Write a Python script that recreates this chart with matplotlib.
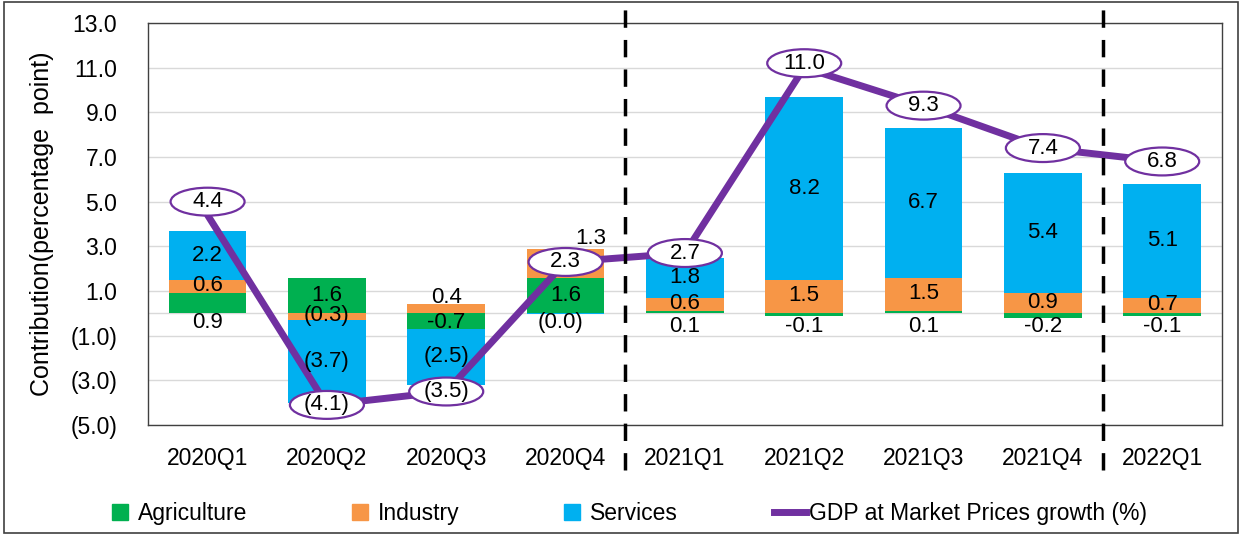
import numpy as np
import matplotlib
matplotlib.use('Agg')
import matplotlib.pyplot as plt
from matplotlib.lines import Line2D
from matplotlib.patches import Rectangle, Ellipse

plt.rcParams['font.family'] = ['Liberation Sans', 'DejaVu Sans']

# data
quarters = ['2020Q1', '2020Q2', '2020Q3', '2020Q4', '2021Q1',
            '2021Q2', '2021Q3', '2021Q4', '2022Q1']
agriculture = [0.9, 1.6, -0.7, 1.6, 0.1, -0.1, 0.1, -0.2, -0.1]
industry = [0.6, -0.3, 0.4, 1.3, 0.6, 1.5, 1.5, 0.9, 0.7]
services = [2.2, -3.7, -2.5, -0.02, 1.8, 8.2, 6.7, 5.4, 5.1]
gdp_growth = [4.4, -4.1, -3.5, 2.3, 2.7, 11.0, 9.3, 7.4, 6.8]
yticks = np.arange(-5, 14, 2)

c_agri = '#00B050'
c_ind = '#F79646'
c_serv = '#00B0F0'
c_gdp = '#7030A0'


def paren(v):
    if v < 0:
        return '(%.1f)' % abs(v)
    return '%.1f' % v


fig = plt.figure(figsize=(12.43, 5.35), dpi=100)
ax = fig.add_axes([0.119, 0.2056, 0.864, 0.7514])

x = np.arange(len(quarters))
w = 0.65
pos_base = np.zeros(len(x))
neg_base = np.zeros(len(x))
segments = []
for vals, col in [(agriculture, c_agri), (industry, c_ind), (services, c_serv)]:
    vals = np.array(vals)
    base = np.where(vals >= 0, pos_base, neg_base)
    ax.bar(x, vals, w, bottom=base, color=col, zorder=2)
    segments.append((vals, base))
    pos_base = pos_base + np.where(vals >= 0, vals, 0)
    neg_base = neg_base + np.where(vals < 0, vals, 0)

fs = 16
# agriculture labels
vals, base = segments[0]
for i, v in enumerate(vals):
    if abs(v) >= 1:
        yc = base[i] + v / 2
    elif abs(v) >= 0.5:
        yc = -0.4
    else:
        yc = -0.6
    ax.text(x[i], yc, '%.1f' % v, ha='center', va='center', fontsize=fs, zorder=5)
# industry labels
vals, base = segments[1]
for i, v in enumerate(vals):
    yc = base[i] + v / 2
    if abs(yc - gdp_growth[i]) < 0.5:
        ax.text(x[i] + 0.21, pos_base[i] + 0.45, paren(v), ha='center', va='center',
                fontsize=fs, zorder=5)
    elif 0 < v < 0.5 and agriculture[i] < -0.5:
        ax.text(x[i], base[i] + v + 0.3, paren(v), ha='center', va='center',
                fontsize=fs, zorder=5)
    else:
        ax.text(x[i], yc + 0.05, paren(v), ha='center', va='center', fontsize=fs, zorder=5)
# services labels
vals, base = segments[2]
for i, v in enumerate(vals):
    yc = base[i] + v / 2
    if abs(v) < 0.1:
        ax.text(x[i] - 0.04, -0.4, paren(v), ha='center', va='center', fontsize=fs, zorder=5)
    else:
        ax.text(x[i], yc, paren(v), ha='center', va='center', fontsize=fs, zorder=5)

# GDP line with ellipse labels
ax.plot(x, gdp_growth, color=c_gdp, lw=5, zorder=3, solid_capstyle='round')
label_nudge = {0: 0.6, 5: 0.2}
for i, g in enumerate(gdp_growth):
    yl = g + label_nudge.get(i, 0)
    ax.add_patch(Ellipse((x[i], yl), 0.62, 1.25, facecolor='white', edgecolor=c_gdp,
                         lw=1.6, zorder=4))
    ax.text(x[i], yl, paren(g), ha='center', va='center', fontsize=fs, zorder=5)

# period separators
for xs in [3.5, 7.5]:
    ax.axvline(xs, ymin=-0.112, ymax=1.06, color='black', lw=2.5,
               dashes=(5, 3.5), clip_on=False, zorder=6)

ax.set_xlim(-0.5, len(x) - 0.5)
ax.set_ylim(-5, 13)
ax.set_yticks(yticks)
ax.set_yticklabels([paren(float(t)) for t in yticks])
ax.set_xticks(x)
ax.set_xticklabels(quarters)
ax.tick_params(axis='both', length=0, labelsize=16.5)
ax.tick_params(axis='y', pad=22)
ax.tick_params(axis='x', pad=16)
ax.grid(axis='y', color='#D9D9D9', lw=1, zorder=0)
ax.axhline(0, color='#D9D9D9', lw=1, zorder=1)
ax.set_axisbelow(True)
for s in ['left', 'top', 'right', 'bottom']:
    ax.spines[s].set_color('#404040')
    ax.spines[s].set_linewidth(1)
ax.set_ylabel('Contribution(percentage  point)', fontsize=18, labelpad=12)

handles = [Line2D([], [], marker='s', ls='none', color=c_agri, markersize=11),
           Line2D([], [], marker='s', ls='none', color=c_ind, markersize=11),
           Line2D([], [], marker='s', ls='none', color=c_serv, markersize=11),
           Line2D([], [], color=c_gdp, lw=5)]
labels = ['Agriculture', 'Industry', 'Services', 'GDP at Market Prices growth (%)']
fig.legend(handles, labels, loc='center', bbox_to_anchor=(0.503, 0.04), ncol=4,
           frameon=False, fontsize=16.5, handlelength=1.4, handletextpad=0.1,
           columnspacing=4.2)

fig.add_artist(Rectangle((0.003, 0.003), 0.993, 0.994, transform=fig.transFigure,
                         fill=False, edgecolor='#404040', lw=1.2))

fig.savefig('out.png', dpi=100)
